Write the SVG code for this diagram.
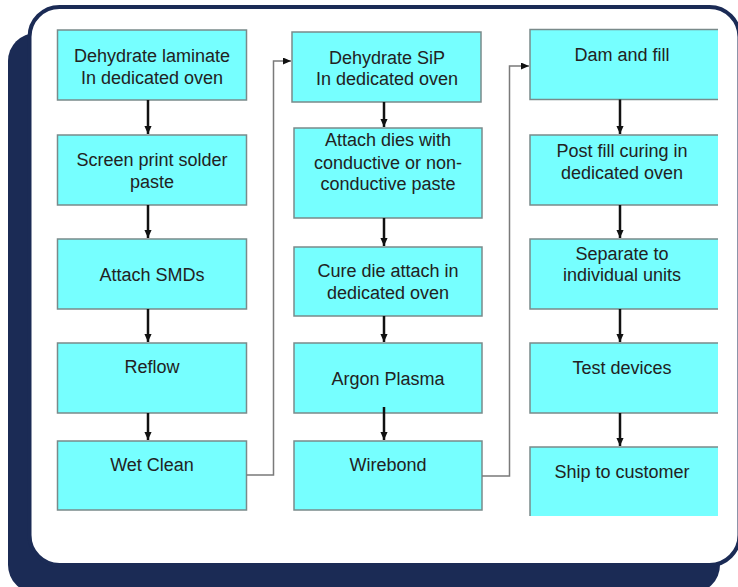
<svg xmlns="http://www.w3.org/2000/svg" width="738" height="587" viewBox="0 0 738 587">
<style>
.box{fill:#76ffff;stroke:#7a8a8a;stroke-width:1.5}
.t{font-family:"Liberation Sans",Arial,sans-serif;font-size:18px;fill:#222;text-anchor:middle}
.flow{stroke:#111;stroke-width:2.5;fill:none}
.link{stroke:#7a7a7a;stroke-width:1.5;fill:none}
</style>
<defs>
<marker id="ah" markerUnits="userSpaceOnUse" markerWidth="8" markerHeight="9" refX="4" refY="8" orient="auto-start-reverse" viewBox="0 0 8 9"><path d="M0,0 L8,0 L4,9 Z" fill="#111" transform="rotate(0)"/></marker>
<marker id="ah2" markerUnits="userSpaceOnUse" markerWidth="8" markerHeight="7" refX="8" refY="3.5" orient="auto" viewBox="0 0 8 7"><path d="M0,0 L8,3.5 L0,7 Z" fill="#111"/></marker>
<marker id="ahd" markerUnits="userSpaceOnUse" markerWidth="8" markerHeight="9" refX="9" refY="4" orient="auto" viewBox="0 0 9 8"><path d="M0,0 L9,4 L0,8 Z" fill="#111"/></marker>
<clipPath id="clip"><rect x="0" y="0" width="718" height="516"/></clipPath>
</defs>
<g id="frame">
<rect x="8" y="33" width="712" height="560" rx="28" fill="#1b2b55"/>
<rect x="29.5" y="7" width="710" height="558" rx="30" fill="#fff" stroke="#1b2b55" stroke-width="4"/>
</g>
<g clip-path="url(#clip)">
<g id="c1n1"><rect class="box" x="57.5" y="30" width="189" height="70"/><text class="t" x="152" y="62">Dehydrate laminate</text><text class="t" x="152" y="83.5">In dedicated oven</text></g>
<g id="c1n2"><rect class="box" x="57.5" y="135" width="189" height="70"/><text class="t" x="152" y="166">Screen print solder</text><text class="t" x="152" y="188">paste</text></g>
<g id="c1n3"><rect class="box" x="57.5" y="239" width="189" height="70"/><text class="t" x="152" y="281">Attach SMDs</text></g>
<g id="c1n4"><rect class="box" x="57.5" y="343" width="189" height="70"/><text class="t" x="152" y="373">Reflow</text></g>
<g id="c1n5"><rect class="box" x="57.5" y="441" width="189" height="69"/><text class="t" x="152" y="471">Wet Clean</text></g>

<g id="c2n1"><rect class="box" x="292" y="32" width="189" height="70"/><text class="t" x="387" y="63.5">Dehydrate SiP</text><text class="t" x="387" y="85">In dedicated oven</text></g>
<g id="c2n2"><rect class="box" x="294" y="128" width="188" height="90"/><text class="t" x="388" y="146">Attach dies with</text><text class="t" x="388" y="168.5">conductive or non-</text><text class="t" x="388" y="190">conductive paste</text></g>
<g id="c2n3"><rect class="box" x="294" y="247" width="188" height="69"/><text class="t" x="388" y="277">Cure die attach in</text><text class="t" x="388" y="299">dedicated oven</text></g>
<g id="c2n4"><rect class="box" x="294" y="343" width="188" height="70"/><text class="t" x="388" y="385">Argon Plasma</text></g>
<g id="c2n5"><rect class="box" x="294" y="441" width="188" height="69"/><text class="t" x="388" y="471">Wirebond</text></g>

<g id="c3n1"><rect class="box" x="530" y="29.5" width="200" height="70"/><text class="t" x="622" y="61">Dam and fill</text></g>
<g id="c3n2"><rect class="box" x="530" y="135" width="200" height="70"/><text class="t" x="622" y="157">Post fill curing in</text><text class="t" x="622" y="178.5">dedicated oven</text></g>
<g id="c3n3"><rect class="box" x="530" y="239" width="200" height="70"/><text class="t" x="622" y="259.5">Separate to</text><text class="t" x="622" y="281">individual units</text></g>
<g id="c3n4"><rect class="box" x="530" y="343" width="200" height="70"/><text class="t" x="622" y="374">Test devices</text></g>
<g id="c3n5"><rect class="box" x="530" y="447" width="200" height="80"/><text class="t" x="622" y="477.5">Ship to customer</text></g>
</g>
<g id="connectors">
<line class="flow" x1="148" y1="100" x2="148" y2="134" marker-end="url(#ahd)"/>
<line class="flow" x1="148" y1="205" x2="148" y2="238" marker-end="url(#ahd)"/>
<line class="flow" x1="148" y1="309" x2="148" y2="342" marker-end="url(#ahd)"/>
<line class="flow" x1="148" y1="413" x2="148" y2="440" marker-end="url(#ahd)"/>
<line class="flow" x1="384" y1="102" x2="384" y2="127" marker-end="url(#ahd)"/>
<line class="flow" x1="384" y1="218" x2="384" y2="246" marker-end="url(#ahd)"/>
<line class="flow" x1="384" y1="316" x2="384" y2="342" marker-end="url(#ahd)"/>
<line class="flow" x1="384" y1="407" x2="384" y2="440" marker-end="url(#ahd)"/>
<line class="flow" x1="620" y1="99.5" x2="620" y2="134" marker-end="url(#ahd)"/>
<line class="flow" x1="620" y1="205" x2="620" y2="238" marker-end="url(#ahd)"/>
<line class="flow" x1="620" y1="309" x2="620" y2="342" marker-end="url(#ahd)"/>
<line class="flow" x1="620" y1="413" x2="620" y2="446" marker-end="url(#ahd)"/>
<path class="link" d="M246.5,475 H273.5 V61 H291" marker-end="url(#ah2)"/>
<path class="link" d="M482,476 H509.5 V66 H529" marker-end="url(#ah2)"/>
</g>
</svg>
